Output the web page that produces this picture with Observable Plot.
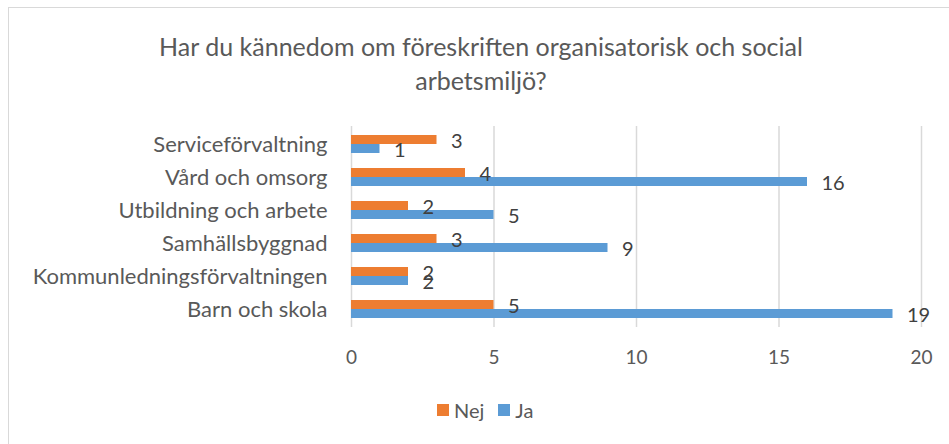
<!DOCTYPE html>
<html>
<head>
<meta charset="utf-8">
<script src="https://cdn.jsdelivr.net/npm/d3@7"></script>
<script src="https://cdn.jsdelivr.net/npm/@observablehq/plot@0.6"></script>
<style>
  html, body { margin: 0; padding: 0; background: #fff; }
  #wrap { position: relative; width: 949px; height: 444px; overflow: hidden; font-family: Lato, "Open Sans", sans-serif; }
  #frame { position: absolute; left: 8px; top: 7px; width: 980px; height: 480px; border: 1.5px solid #d9d9d9; box-sizing: border-box; }
  #title { position: absolute; left: 0; top: 29px; width: 962px; text-align: center; font-size: 25px; line-height: 34px; color: #595959; }
  #chart { position: absolute; left: 0; top: 0; }
  #legend { position: absolute; top: 398px; left: 437px; display: flex; align-items: center; font-size: 20px; color: #595959; }
  .sw { display: inline-block; width: 12px; height: 12px; margin-right: 5px; }
  .item { display: flex; align-items: center; margin-right: 14px; }
</style>
</head>
<body>
<div id="wrap">
  <div id="frame"></div>
  <div id="chart"></div>
  <div id="title">Har du kännedom om föreskriften organisatorisk och social<br>arbetsmiljö?</div>
  <div id="legend"></div>
</div>
<script>
const categories = ["Serviceförvaltning", "Vård och omsorg", "Utbildning och arbete", "Samhällsbyggnad", "Kommunledningsförvaltningen", "Barn och skola"];
const nej = [3, 4, 2, 3, 2, 5];
const ja = [1, 16, 5, 9, 2, 19];
const seriesNames = ["Nej", "Ja"];
const seriesColors = ["#ED7D31", "#5B9BD5"];
const xTicks = [0, 5, 10, 15, 20];

const nejData = categories.map((c, i) => ({category: c, value: nej[i]}));
const jaData = categories.map((c, i) => ({category: c, value: ja[i]}));

const plot = Plot.plot({
  width: 949,
  height: 444,
  marginLeft: 351,
  marginRight: 28,
  marginTop: 126,
  marginBottom: 117,
  style: {fontFamily: "Lato, 'Open Sans', sans-serif", background: "transparent"},
  x: {domain: [0, 20], ticks: xTicks},
  y: {domain: categories, paddingInner: 0.463, paddingOuter: 0.2315, label: null},
  marks: [
    Plot.ruleX(xTicks, {stroke: "#d9d9d9", strokeWidth: 1.5}),
    Plot.barX(nejData, {x: "value", y: "category", fill: seriesColors[0], insetBottom: 9}),
    Plot.barX(jaData, {x: "value", y: "category", fill: seriesColors[1], insetTop: 9}),
    Plot.text(nejData, {x: "value", y: "category", text: d => String(d.value), dx: 14, dy: -3, textAnchor: "start", fontSize: 20, fill: "#404040"}),
    Plot.text(jaData, {x: "value", y: "category", text: d => String(d.value), dx: 14, dy: 6, textAnchor: "start", fontSize: 20, fill: "#404040"}),
    Plot.axisY({tickSize: 0, tickPadding: 24, fontSize: 22, color: "#595959", label: null}),
    Plot.axisX({ticks: xTicks, tickSize: 0, tickPadding: 23, fontSize: 19, color: "#595959", label: null})
  ]
});
document.getElementById("chart").appendChild(plot);

const legend = document.getElementById("legend");
seriesNames.forEach((name, i) => {
  const item = document.createElement("div");
  item.className = "item";
  const sw = document.createElement("span");
  sw.className = "sw";
  sw.style.background = seriesColors[i];
  item.appendChild(sw);
  item.appendChild(document.createTextNode(name));
  legend.appendChild(item);
});
</script>
</body>
</html>
